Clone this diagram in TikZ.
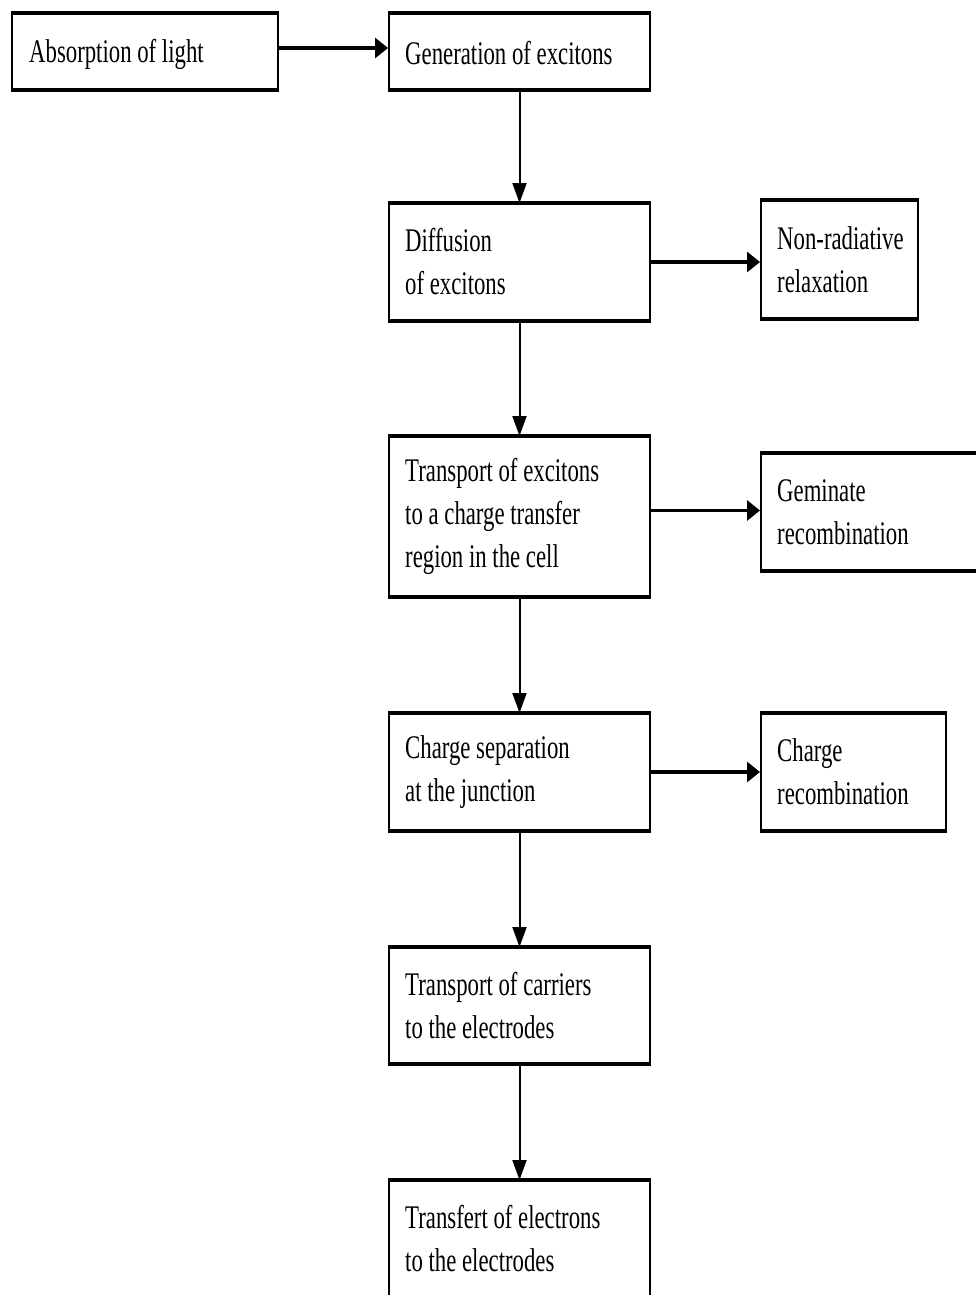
\documentclass[tikz,border=0pt]{standalone}
\usepackage{fontspec}
\setmainfont{Liberation Serif}[FakeStretch=0.69]
\usetikzlibrary{arrows.meta}
\begin{document}
\begin{tikzpicture}[x=1pt,y=-1pt,
  box/.style={draw, line width=2pt, inner sep=0pt},
  lbl/.style={anchor=west, align=left, inner sep=0pt, font=\fontsize{33}{43}\selectfont},
  hedge/.style={line width=3.5pt},
  harr/.style={line width=3.2pt, -{Triangle[length=13pt,width=20pt]}},
  varr/.style={line width=2pt, -{Triangle[length=20pt,width=14pt]}}]
\fill[white] (0,0) rectangle (976,1295);
\clip (0,0) rectangle (976,1295);
\useasboundingbox (0,0) rectangle (976,1295);

\node[box, minimum width=266pt, minimum height=75pt]  (b1)  at (145,51.5)   {};
\node[box, minimum width=261pt, minimum height=75pt]  (b2)  at (519.5,51.5) {};
\node[box, minimum width=261pt, minimum height=116pt] (b3)  at (519.5,262)  {};
\node[box, minimum width=157pt, minimum height=117pt] (b4)  at (839.5,259.5) {};
\node[box, minimum width=261pt, minimum height=159pt] (b5)  at (519.5,516.5) {};
\node[box, minimum width=229pt, minimum height=116pt] (b6)  at (875.5,512)  {};
\node[box, minimum width=261pt, minimum height=116pt] (b7)  at (519.5,772)  {};
\node[box, minimum width=185pt, minimum height=116pt] (b8)  at (853.5,772)  {};
\node[box, minimum width=261pt, minimum height=115pt] (b9)  at (519.5,1005.5) {};
\node[box, minimum width=261pt, minimum height=116pt] (b10) at (519.5,1239) {};

\foreach \n in {b1,b2,b3,b4,b5,b6,b7,b8,b9,b10}{
  \draw[hedge] (\n.north west) -- (\n.north east);
  \draw[hedge] (\n.south west) -- (\n.south east);
}

\node[lbl] (t1)  at ([xshift=18pt,yshift=-3pt]b1.west)  {Absorption of light};
\node[lbl] (t2)  at ([xshift=17pt,yshift=-2pt]b2.west)  {Generation of excitons};
\node[lbl] (t3)  at ([xshift=17pt]b3.west)  {Diffusion\\of excitons};
\node[lbl] (t4)  at ([xshift=17pt]b4.west)  {Non-radiative\\relaxation};
\node[lbl] (t5)  at ([xshift=17pt]b5.west)  {Transport of excitons\\to a charge transfer\\region in the cell};
\node[lbl] (t6)  at ([xshift=17pt]b6.west)  {Geminate\\recombination};
\node[lbl] (t7)  at ([xshift=17pt]b7.west)  {Charge separation\\at the junction};
\node[lbl] (t8)  at ([xshift=17pt]b8.west)  {Charge\\recombination};
\node[lbl] (t9)  at ([xshift=17pt]b9.west)  {Transport of carriers\\to the electrodes};
\node[lbl] (t10) at ([xshift=17pt]b10.west) {Transfert of electrons\\to the electrodes};

\coordinate (p1) at ([yshift=3.5pt]b1.east);
\coordinate (p5) at ([yshift=6pt]b5.east);
\draw[harr] (p1) -- (p1 -| b2.west);
\draw[harr] (b3.east) -- (b3.east -| b4.west);
\draw[harr] (p5) -- (p5 -| b6.west);
\draw[harr] (b7.east) -- (b7.east -| b8.west);

\draw[varr] (b2.south) -- (b3.north);
\draw[varr] (b3.south) -- (b5.north);
\draw[varr] (b5.south) -- (b7.north);
\draw[varr] (b7.south) -- (b9.north);
\draw[varr] (b9.south) -- (b10.north);
\end{tikzpicture}
\end{document}
